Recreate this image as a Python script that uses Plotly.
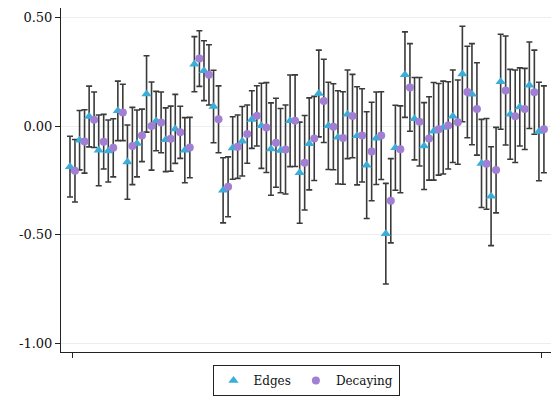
import plotly.graph_objects as go

idx = list(range(1, 51))

edges_val = [-0.187, -0.065, 0.044, -0.112, -0.115, 0.070, -0.166, -0.080, 0.148, 0.023,
             -0.063, -0.013, -0.111, 0.285, 0.255, 0.090, -0.296, -0.101, -0.070, 0.030,
             0.001, -0.106, -0.113, 0.024, -0.215, -0.082, 0.150, 0.001, -0.052, 0.054,
             -0.045, -0.180, -0.056, -0.496, -0.100, 0.237, 0.034, -0.092, -0.024, -0.007,
             0.045, 0.240, 0.147, -0.172, -0.323, 0.204, 0.054, 0.088, 0.188, -0.025]
edges_err = [0.140, 0.137, 0.140, 0.163, 0.143, 0.137, 0.171, 0.154, 0.176, 0.137,
             0.147, 0.159, 0.150, 0.127, 0.138, 0.167, 0.150, 0.144, 0.160, 0.133,
             0.196, 0.213, 0.194, 0.211, 0.233, 0.212, 0.200, 0.201, 0.215, 0.204,
             0.226, 0.246, 0.213, 0.232, 0.196, 0.197, 0.190, 0.200, 0.225, 0.214,
             0.213, 0.220, 0.233, 0.203, 0.228, 0.219, 0.207, 0.180, 0.199, 0.227]

decay_val = [-0.206, -0.071, 0.029, -0.072, -0.100, 0.063, -0.092, -0.043, 0.000, 0.017,
             -0.058, -0.029, -0.099, 0.311, 0.236, 0.031, -0.280, -0.095, -0.037, 0.047,
             -0.007, -0.077, -0.108, 0.025, -0.169, -0.057, 0.116, -0.003, -0.055, 0.046,
             -0.043, -0.117, -0.044, -0.344, -0.107, 0.178, 0.020, -0.057, -0.015, 0.003,
             0.018, 0.157, 0.079, -0.174, -0.203, 0.164, 0.045, 0.079, 0.156, -0.015]
decay_err = [0.144, 0.146, 0.128, 0.126, 0.134, 0.130, 0.178, 0.121, 0.203, 0.140,
             0.150, 0.120, 0.139, 0.128, 0.139, 0.154, 0.138, 0.146, 0.134, 0.139,
             0.207, 0.205, 0.205, 0.211, 0.218, 0.194, 0.192, 0.198, 0.213, 0.192,
             0.215, 0.227, 0.202, 0.194, 0.200, 0.202, 0.204, 0.192, 0.211, 0.201,
             0.194, 0.211, 0.213, 0.209, 0.197, 0.251, 0.213, 0.187, 0.194, 0.200]

y_ticks = [0.5, 0.0, -0.5, -1.0]
y_labels = ["0.50", "0.00", "-0.50", "-1.00"]

OFF = 0.26
x_edges = [i - OFF for i in idx]
x_decay = [i + OFF for i in idx]

C_EDGE = "#3AADD8"
C_DECAY = "#A07FD4"
BAR = "#3a3a3a"
FONT = "DejaVu Serif"

fig = go.Figure()
for xs, vs, es in [(x_edges, edges_val, edges_err), (x_decay, decay_val, decay_err)]:
    fig.add_trace(go.Scatter(
        x=xs, y=vs, mode="markers", marker=dict(size=1, opacity=0),
        error_y=dict(type="data", array=es, visible=True, color=BAR, thickness=1.6, width=3),
        showlegend=False, hoverinfo="skip"))

fig.add_trace(go.Scatter(x=x_edges, y=edges_val, mode="markers", name="Edges",
                         marker=dict(symbol="triangle-up", size=9, color=C_EDGE)))
fig.add_trace(go.Scatter(x=x_decay, y=decay_val, mode="markers", name="Decaying",
                         marker=dict(symbol="circle", size=8, color=C_DECAY)))

fig.update_layout(
    width=551, height=396,
    margin=dict(l=61, r=0, t=8, b=44, autoexpand=False),
    paper_bgcolor="white", plot_bgcolor="white",
    font=dict(family=FONT, size=13, color="#111"),
    xaxis=dict(range=[-0.2, 51.0], tickvals=[1, 50], ticktext=["", ""],
               ticks="outside", ticklen=5, tickcolor="#222", showgrid=False,
               zeroline=False, showline=True, linecolor="#222", linewidth=1),
    yaxis=dict(range=[-1.041, 0.544], tickvals=y_ticks, ticktext=y_labels,
               ticks="outside", ticklen=5, tickcolor="#222", showgrid=True,
               gridcolor="#E9EFEF", gridwidth=1, zeroline=False, showline=True,
               linecolor="#222", linewidth=1, tickfont=dict(size=13)),
    legend=dict(orientation="h", x=0.5, xanchor="center", y=-0.128, yanchor="bottom",
                bordercolor="#222", borderwidth=1, font=dict(size=12),
                itemwidth=30, tracegroupgap=0),
    showlegend=True,
)

fig.write_html("out.html")
